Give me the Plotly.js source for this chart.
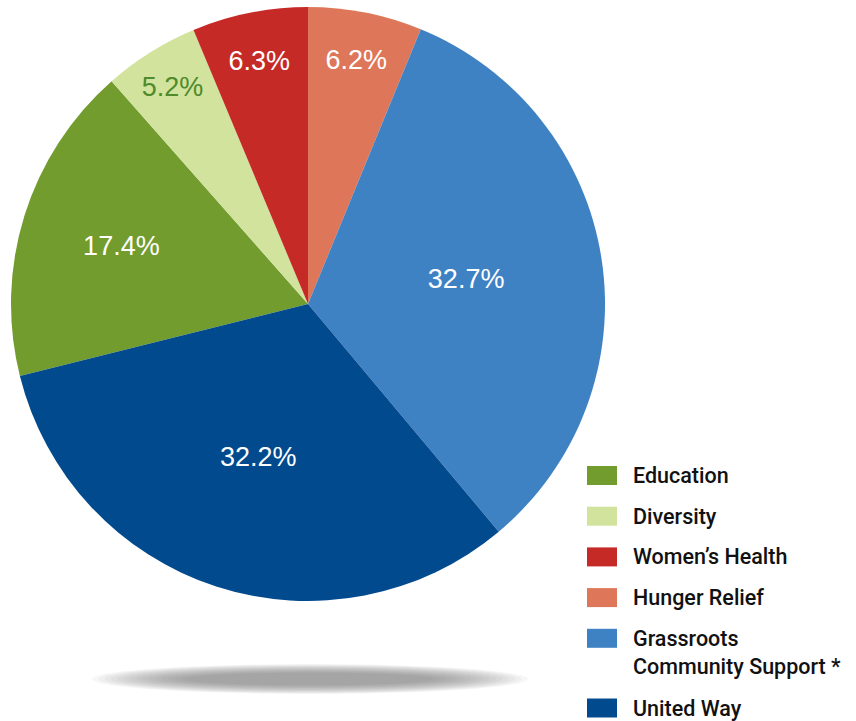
<!DOCTYPE html>
<html>
<head>
<meta charset="utf-8">
<script src="https://cdn.plot.ly/plotly-3.0.1.min.js"></script>
<style>
html,body{margin:0;padding:0;background:#fff;}
#chart{width:856px;height:721px;}
</style>
</head>
<body>
<div id="chart"></div>
<script>
// Data (clockwise order, starting with Education)
var categories = ["Education", "Diversity", "Women\u2019s Health", "Hunger Relief", "Grassroots Community Support *", "United Way"];
var legendLabels = ["Education", "Diversity", "Women\u2019s Health", "Hunger Relief", "Grassroots<br>Community Support *", "United Way"];
var shares = [17.4, 5.2, 6.3, 6.2, 32.7, 32.2];
var sliceColors = ["#729c2d", "#d1e39d", "#c62a27", "#de775a", "#3f82c4", "#004a8d"];
var labelColors = ["#ffffff", "#4f8a2b", "#ffffff", "#ffffff", "#ffffff", "#ffffff"];

var W = 856, H = 721;
function px(x){ return x / W; }
function py(y){ return 1 - y / H; }

var total = shares.reduce(function(a,b){return a+b;},0);
// Education starts so that Hunger Relief begins at 12 o'clock
var before = shares[0] + shares[1] + shares[2];
var rotation = -before / total * 360;

var trace = {
  type: "pie",
  labels: categories,
  values: shares,
  sort: false,
  direction: "clockwise",
  rotation: rotation,
  marker: {colors: sliceColors, line: {width: 0}},
  texttemplate: "%{value}%",
  textposition: "inside",
  insidetextorientation: "horizontal",
  textfont: {family: "Liberation Sans, Arial, sans-serif", size: 27, color: labelColors},
  hoverinfo: "label+percent",
  showlegend: false,
  domain: {x: [px(11), px(605)], y: [py(601), py(7)]}
};

var shapes = [];
var annotations = [];

// soft shadow under the pie (stacked translucent rounded bars)
var layers = 16;
for (var i = 0; i < layers; i++) {
  var t = i / (layers - 1);
  var hw = 218 - 95 * t;
  var hh = 15 - 9 * t;
  shapes.push({
    type: "circle", xref: "paper", yref: "paper",
    x0: px(310 - hw), x1: px(310 + hw), y0: py(679 + hh), y1: py(679 - hh),
    fillcolor: "#7a7b7e", opacity: 0.06, line: {width: 0}, layer: "below"
  });
}

// manual legend
var top0 = 466, step = 40.7, extraLine = 29, sqW = 30, sqH = 19, sqX = 587, txtX = 631;
var y = top0;
for (var k = 0; k < legendLabels.length; k++) {
  var lines = legendLabels[k].split("<br>").length;
  shapes.push({
    type: "rect", xref: "paper", yref: "paper",
    x0: px(sqX), x1: px(sqX + sqW), y0: py(y + sqH), y1: py(y),
    fillcolor: sliceColors[k], line: {width: 0}
  });
  var cy = y + sqH / 2 + (lines - 1) * extraLine / 2;
  annotations.push({
    xref: "paper", yref: "paper", x: px(txtX), y: py(cy),
    xanchor: "left", yanchor: "middle", align: "left",
    text: legendLabels[k], showarrow: false,
    font: {family: "Roboto, Liberation Sans, sans-serif", size: 21.5, color: "#111111", weight: 500}
  });
  y += step + (lines - 1) * extraLine;
}

var layout = {
  width: W, height: H,
  margin: {l: 0, r: 0, t: 0, b: 0},
  paper_bgcolor: "#ffffff",
  plot_bgcolor: "#ffffff",
  showlegend: false,
  shapes: shapes,
  annotations: annotations
};

Plotly.newPlot("chart", [trace], layout, {displayModeBar: false, staticPlot: true});
</script>
</body>
</html>
